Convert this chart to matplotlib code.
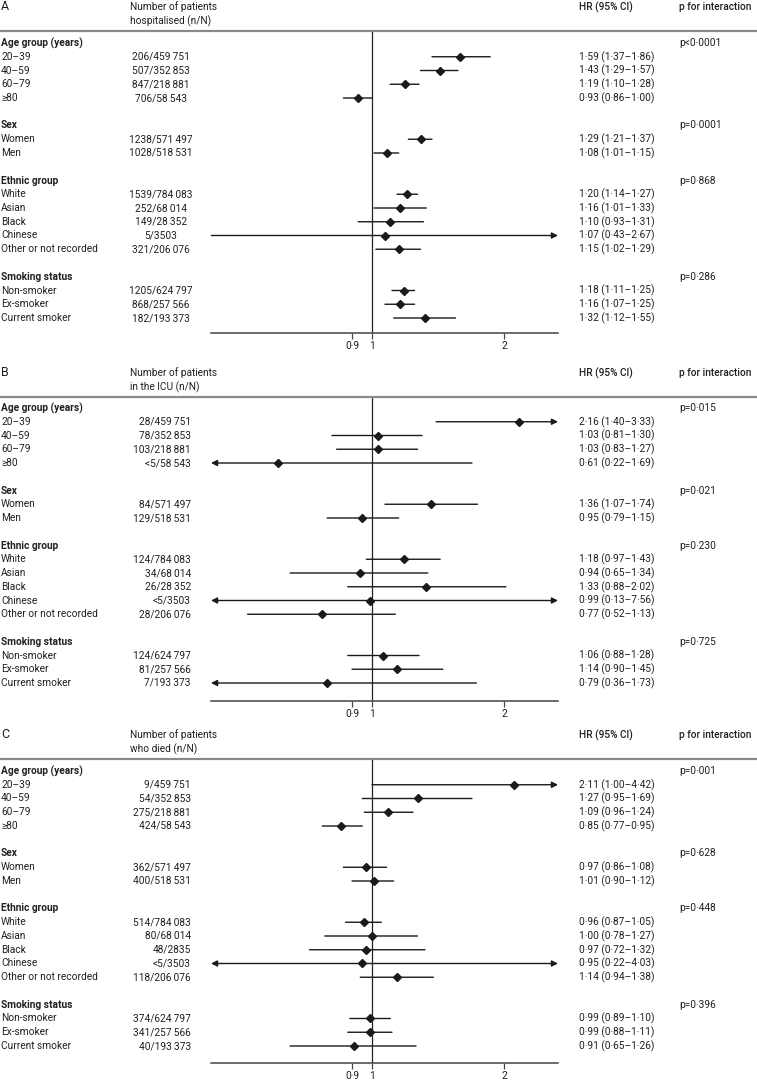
import numpy as np
import matplotlib
matplotlib.use('Agg')
from matplotlib import pyplot as plt
from matplotlib import transforms

plt.rcParams['font.family'] = ['Roboto', 'DejaVu Sans']

# categories
groups = ['Age group (years)', 'Sex', 'Ethnic group', 'Smoking status']
subgroups = [['20–39', '40–59', '60–79', '≥80'],
             ['Women', 'Men'],
             ['White', 'Asian', 'Black', 'Chinese', 'Other or not recorded'],
             ['Non-smoker', 'Ex-smoker', 'Current smoker']]

# A: hospitalised
hosp_n = ['206/459\u2009751', '507/352\u2009853', '847/218\u2009881', '706/58\u2009543',
          '1238/571\u2009497', '1028/518\u2009531',
          '1539/784\u2009083', '252/68\u2009014', '149/28\u2009352', '5/3503', '321/206\u2009076',
          '1205/624\u2009797', '868/257\u2009566', '182/193\u2009373']
hosp_hr = [1.59, 1.43, 1.19, 0.93, 1.29, 1.08, 1.20, 1.16, 1.10, 1.07, 1.15, 1.18, 1.16, 1.32]
hosp_lo = [1.37, 1.29, 1.10, 0.86, 1.21, 1.01, 1.14, 1.01, 0.93, 0.43, 1.02, 1.11, 1.07, 1.12]
hosp_hi = [1.86, 1.57, 1.28, 1.00, 1.37, 1.15, 1.27, 1.33, 1.31, 2.67, 1.29, 1.25, 1.25, 1.55]
hosp_p = ['p<0·0001', 'p=0·0001', 'p=0·868', 'p=0·286']

# B: ICU
icu_n = ['28/459\u2009751', '78/352\u2009853', '103/218\u2009881', '<5/58\u2009543',
         '84/571\u2009497', '129/518\u2009531',
         '124/784\u2009083', '34/68\u2009014', '26/28\u2009352', '<5/3503', '28/206\u2009076',
         '124/624\u2009797', '81/257\u2009566', '7/193\u2009373']
icu_hr = [2.16, 1.03, 1.03, 0.61, 1.36, 0.95, 1.18, 0.94, 1.33, 0.99, 0.77, 1.06, 1.14, 0.79]
icu_lo = [1.40, 0.81, 0.83, 0.22, 1.07, 0.79, 0.97, 0.65, 0.88, 0.13, 0.52, 0.88, 0.90, 0.36]
icu_hi = [3.33, 1.30, 1.27, 1.69, 1.74, 1.15, 1.43, 1.34, 2.02, 7.56, 1.13, 1.28, 1.45, 1.73]
icu_p = ['p=0·015', 'p=0·021', 'p=0·230', 'p=0·725']

# C: died
died_n = ['9/459\u2009751', '54/352\u2009853', '275/218\u2009881', '424/58\u2009543',
          '362/571\u2009497', '400/518\u2009531',
          '514/784\u2009083', '80/68\u2009014', '48/2835', '<5/3503', '118/206\u2009076',
          '374/624\u2009797', '341/257\u2009566', '40/193\u2009373']
died_hr = [2.11, 1.27, 1.09, 0.85, 0.97, 1.01, 0.96, 1.00, 0.97, 0.95, 1.14, 0.99, 0.99, 0.91]
died_lo = [1.00, 0.95, 0.96, 0.77, 0.86, 0.90, 0.87, 0.78, 0.72, 0.22, 0.94, 0.89, 0.88, 0.65]
died_hi = [4.42, 1.69, 1.24, 0.95, 1.08, 1.12, 1.05, 1.27, 1.32, 4.03, 1.38, 1.10, 1.11, 1.26]
died_p = ['p=0·001', 'p=0·628', 'p=0·448', 'p=0·396']

xticks = [0.9, 1, 2]
xticklabels = ['0·9', '1', '2']

W, H = 757, 1081
XMIN, XMAX = 0.429, 2.656
TXT = '#231f20'
FS = 7.3
STEP = 13.75  # px between rows

fig = plt.figure(figsize=(W / 100, H / 100), dpi=100)


def fx(x):
    return x / W


def fy(y):
    return 1 - y / H


def fmt(v):
    return f'{v:.2f}'.replace('.', '·')


def draw_panel(sep, row0, axis_y, letter, header, counts, hr, lo, hi, pvals, count_ha):
    ax = fig.add_axes([fx(211), fy(axis_y), fx(558) - fx(211), (axis_y - sep) / H])
    ax.set_xscale('log')
    ax.set_xlim(XMIN, XMAX)
    ax.set_ylim((axis_y - row0) / STEP, (sep - row0) / STEP)
    for s in ['top', 'left', 'right']:
        ax.spines[s].set_visible(False)
    ax.spines['bottom'].set_color('#444444')
    ax.spines['bottom'].set_linewidth(1.1)
    ax.set_yticks([])
    ax.set_xticks(xticks)
    ax.set_xticklabels(xticklabels)
    ax.xaxis.set_minor_locator(matplotlib.ticker.NullLocator())
    ax.tick_params(axis='x', direction='out', length=4, width=0.9, color='#444444',
                   labelsize=FS, labelcolor=TXT, pad=1.5)
    ax.axvline(1, color='#222222', lw=0.9)

    # header
    fig.text(fx(1), fy(sep - 24), letter, fontsize=9, color=TXT, va='center')
    fig.text(fx(130), fy(sep - 24), header[0], fontsize=FS, color=TXT, va='center')
    fig.text(fx(130), fy(sep - 10), header[1], fontsize=FS, color=TXT, va='center')
    fig.text(fx(579), fy(sep - 24), 'HR (95% CI)', fontsize=FS, color=TXT, va='center',
             fontweight='medium')
    fig.text(fx(679), fy(sep - 24), 'p for interaction', fontsize=FS, color=TXT, va='center',
             fontweight='medium')
    fig.add_artist(plt.Line2D([0, 1], [fy(sep), fy(sep)], color='#8a8a8a', lw=1.6,
                              transform=fig.transFigure))

    tr = transforms.blended_transform_factory(fig.transFigure, ax.transData)
    row, k = 0, 0
    for g, name in enumerate(groups):
        ax.text(fx(1), row, name, transform=tr, fontsize=FS, fontweight='semibold', color=TXT,
                va='center')
        ax.text(fx(679), row, pvals[g], transform=tr, fontsize=FS, color=TXT, va='center')
        row += 1
        for sub in subgroups[g]:
            ax.text(fx(1), row, sub, transform=tr, fontsize=FS, color=TXT, va='center')
            if count_ha == 'center':
                ax.text(fx(161), row, counts[k], transform=tr, fontsize=FS, color=TXT,
                        va='center', ha='center')
            else:
                ax.text(fx(191), row, counts[k], transform=tr, fontsize=FS, color=TXT,
                        va='center', ha='right')
            ax.text(fx(579), row, f'{fmt(hr[k])} ({fmt(lo[k])}–{fmt(hi[k])})', transform=tr,
                    fontsize=FS, color=TXT, va='center')
            a, b = max(lo[k], XMIN), min(hi[k], XMAX)
            left_arrow, right_arrow = lo[k] < XMIN, hi[k] > XMAX
            if left_arrow and right_arrow:
                style = '<|-|>'
            elif right_arrow:
                style = '-|>'
            elif left_arrow:
                style = '<|-'
            else:
                style = '-'
            ax.annotate('', xy=(b, row), xytext=(a, row),
                        arrowprops=dict(arrowstyle=style, color='#1a1a1a', lw=1.0,
                                        mutation_scale=9, shrinkA=0, shrinkB=0),
                        annotation_clip=False)
            ax.plot(hr[k], row, marker='D', ms=4.3, color='#1a1a1a', zorder=5, clip_on=False)
            row += 1
            k += 1
        row += 1


draw_panel(31, 43, 333, 'A', ['Number of patients', 'hospitalised (n/N)'],
           hosp_n, hosp_hr, hosp_lo, hosp_hi, hosp_p, 'center')
draw_panel(397, 408, 701, 'B', ['Number of patients', 'in the ICU (n/N)'],
           icu_n, icu_hr, icu_lo, icu_hi, icu_p, 'right')
draw_panel(759, 771, 1063, 'C', ['Number of patients', 'who died (n/N)'],
           died_n, died_hr, died_lo, died_hi, died_p, 'right')

fig.savefig('out.png', dpi=100)
